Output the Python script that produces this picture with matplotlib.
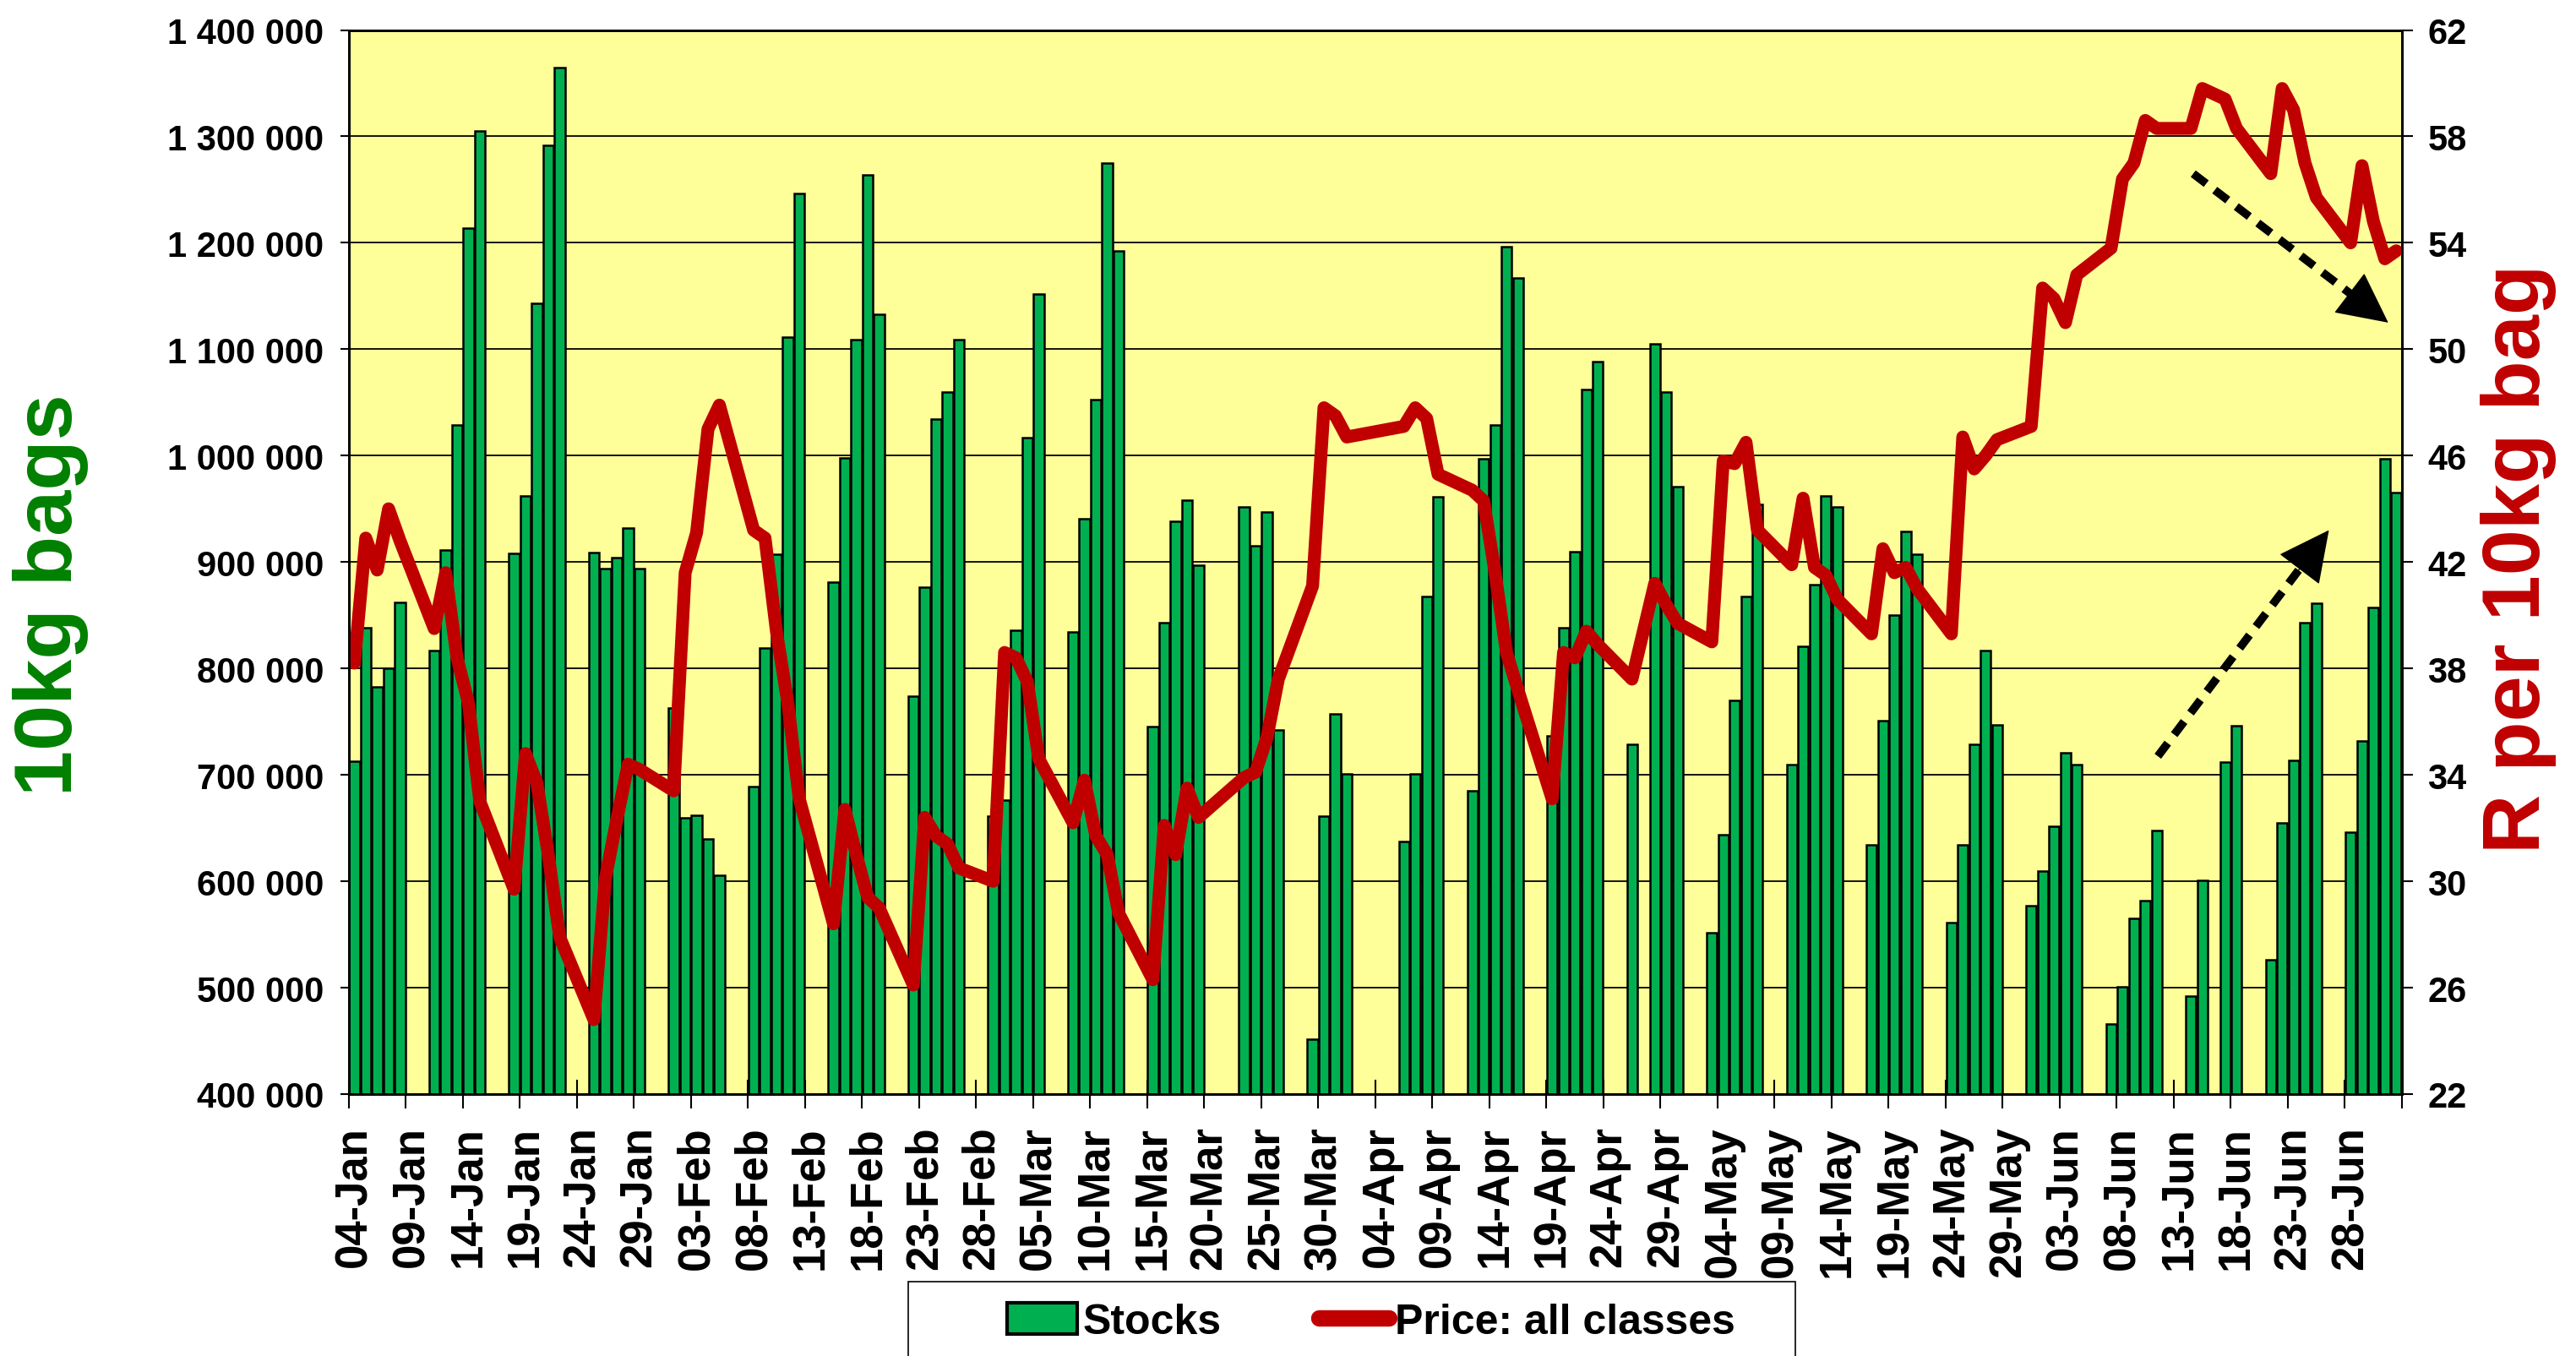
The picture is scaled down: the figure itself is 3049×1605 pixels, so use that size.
import matplotlib
matplotlib.use('Agg')
import matplotlib.pyplot as plt
import numpy as np
import pandas as pd
from matplotlib import font_manager
from matplotlib.patches import Patch, Rectangle
from matplotlib.lines import Line2D
from matplotlib.ticker import FuncFormatter

# trading days Mon..Fri, 04-Jan to 02-Jul; None = public holiday
start = '2021-01-04'
end = '2021-07-02'

# stocks, thousands of 10kg bags
stocks_k = [
    713, 838, 783, 800, 862,
    817, 911, 1029, 1214, 1305,
    908, 962, 1143, 1292, 1365,
    909, 894, 904, 932, 894,
    763, 660, 662, 640, 606,
    689, 819, 907, 1111, 1246,
    881, 998, 1109, 1264, 1133,
    774, 876, 1034, 1060, 1109,
    661, 676, 836, 1017, 1152,
    834, 941, 1053, 1275, 1192,
    745, 843, 938, 958, 897,
    None, 952, 915, 947, 742,
    452, 661, 757, 701, None,
    None, 637, 701, 868, 961,
    685, 997, 1029, 1196, 1167,
    737, 838, 910, 1062, 1088,
    729, None, 1105, 1060, 971,
    552, 644, 770, 868, 954,
    710, 821, 879, 962, 952,
    634, 751, 850, 929, 907,
    561, 634, 729, 817, 747,
    577, 610, 652, 721, 710,
    466, 501, 565, 582, 648,
    492, 601, None, 712, 746,
    526, 655, 714, 843, 861,
    646, 732, 857, 997, 965,
]

# price all classes, R per 10kg bag
price = [
    38.2, 42.9, 41.7, 44.0, 42.8,
    39.5, 41.6, 38.4, 36.7, 33.0,
    29.7, 34.8, 33.7, 31.0, 27.9,
    24.8, 30.1, 32.3, 34.4, 34.2,
    33.4, 41.6, 43.1, 47.0, 47.9,
    43.2, 42.9, 39.4, 36.7, 33.1,
    28.4, 32.7, 31.0, 29.4, 29.0,
    26.1, 32.4, 31.7, 31.4, 30.5,
    30.0, 38.6, 38.4, 37.5, 34.6,
    32.2, 33.8, 31.7, 31.0, 28.8,
    26.3, 32.1, 31.0, 33.5, 32.4,
    None, 33.9, 34.1, 35.4, 37.6,
    41.1, 47.8, 47.5, 46.7, None,
    None, 47.1, 47.8, 47.4, 45.3,
    44.7, 44.3, 41.6, 38.6, 37.2,
    33.1, 38.6, 38.4, 39.4, 38.9,
    37.6, None, 41.2, 40.4, 39.7,
    39.0, 45.8, 45.7, 46.5, 43.2,
    41.9, 44.4, 41.8, 41.5, 40.6,
    39.3, 42.5, 41.6, 41.8, 41.0,
    39.3, 46.7, 45.5, 46.0, 46.6,
    47.1, 52.3, 51.9, 51.0, 52.8,
    53.8, 56.4, 57.0, 58.6, 58.3,
    58.3, 59.8, None, 59.4, 58.3,
    56.6, 59.8, 59.0, 57.0, 55.7,
    54.0, 56.9, 54.8, 53.4, 53.7,
]

# trend arrows (day index, price)
arrow_down = [(161.2, 56.6), (178.3, 51.0)]
arrow_up = [(158.1, 34.7), (173.1, 43.2)]

have = {f.name for f in font_manager.fontManager.ttflist}
if 'Liberation Sans Narrow' in have:
    narrow, tick_fs, leg_fs = 'Liberation Sans Narrow', 36, 42
else:
    narrow, tick_fs, leg_fs = 'Liberation Sans', 30, 36

plt.rcParams['font.family'] = ['Liberation Sans', 'DejaVu Sans']
plt.rcParams['font.weight'] = 'bold'

days = pd.bdate_range(start, end)
x = np.array((days - days[0]).days)
ndays = (pd.Timestamp(end) - pd.Timestamp(start)).days + 1
st = np.array([np.nan if v is None else v * 1000 for v in stocks_k])
pr = np.array([np.nan if v is None else v for v in price])

green = '#00B050'
red = '#C00000'

fig = plt.figure(figsize=(30.49, 16.06), dpi=100)
ax = fig.add_axes([0.13535, 0.19303, 0.79708, 0.78424])
ax.set_facecolor('#FFFF99')
ax.set_axisbelow(True)

ok = ~np.isnan(st)
ax.bar(x[ok], st[ok], width=0.9, color=green, edgecolor='black', linewidth=1.8)
ax.set_ylim(400000, 1400000)
ax.set_xlim(-0.5, ndays - 0.5)
ax.set_yticks(np.arange(400000, 1400001, 100000))
ax.yaxis.set_major_formatter(FuncFormatter(lambda v, p: f'{int(v):,}'.replace(',', ' ')))
ax.yaxis.grid(True, color='black', linewidth=1.3)

# ticks on week boundaries, labels every 5 days
label_days = pd.date_range(start, periods=ndays // 5, freq='5D')
ax.set_xticks(np.arange(-0.5, ndays, 5))
ax.set_xticklabels([])
ax.set_xticks(np.arange(0, ndays, 5), minor=True)
ax.set_xticklabels([d.strftime('%d-%b') for d in label_days], minor=True,
                   rotation=90, fontsize=38, fontweight='bold')
ax.tick_params(axis='x', which='major', direction='inout', length=25, width=1.5)
ax.tick_params(axis='x', which='minor', length=0, pad=27)
ax.tick_params(axis='y', direction='out', length=7, width=1.5, pad=14)
for lab in ax.get_yticklabels():
    lab.set_fontfamily(narrow)
    lab.set_fontsize(tick_fs)
    lab.set_fontweight('bold')
for s in ax.spines.values():
    s.set_linewidth(2)

ax2 = ax.twinx()
okp = ~np.isnan(pr)
ax2.plot(x[okp], pr[okp], color=red, linewidth=11,
         solid_joinstyle='round', solid_capstyle='round')
ax2.set_ylim(22, 62)
ax2.set_yticks(np.arange(22, 63, 4))
ax2.tick_params(axis='y', direction='out', length=9, width=1.5, pad=13)
for lab in ax2.get_yticklabels():
    lab.set_fontfamily(narrow)
    lab.set_fontsize(tick_fs)
    lab.set_fontweight('bold')
for s in ax2.spines.values():
    s.set_linewidth(2)

# dashed trend arrows
for (x0, y0), (x1, y1), f in [(arrow_down[0], arrow_down[1], 0.84), (arrow_up[0], arrow_up[1], 0.86)]:
    ax2.plot([x0, x0 + f * (x1 - x0)], [y0, y0 + f * (y1 - y0)], color='black',
             linewidth=7, linestyle=(0, (2.0, 1.3)), solid_capstyle='butt')
    ax2.annotate('', xy=(x1, y1), xytext=(x0 + 0.8 * (x1 - x0), y0 + 0.8 * (y1 - y0)),
                 arrowprops=dict(arrowstyle='-|>,head_length=1.0,head_width=0.5',
                                 mutation_scale=40, color='black', lw=1,
                                 shrinkA=0, shrinkB=0))

fig.text(60 / 3049, 1 - 704 / 1606, '10kg bags', rotation=90, ha='center', va='center',
         color='#008000', fontsize=70, fontweight='bold')
fig.text(2981 / 3049, 1 - 661 / 1606, 'R per 10kg bag', rotation=90, ha='center', va='center',
         color=red, fontsize=70, fontweight='bold')

# legend box, cut by the bottom of the picture
fig.add_artist(Rectangle((1075 / 3049, -0.02), 1050 / 3049, 0.02 + (1606 - 1518) / 1606,
                         transform=fig.transFigure, facecolor='white',
                         edgecolor='black', linewidth=1.2))
handles = [Patch(facecolor=green, edgecolor='black', linewidth=3),
           Line2D([], [], color=red, linewidth=14, solid_capstyle='round')]
fig.legend(handles, ['Stocks', 'Price: all classes'], loc='center left',
           bbox_to_anchor=(1192 / 3049, 1 - 1566 / 1606), ncol=2, frameon=False,
           prop=dict(family=narrow, weight='bold', size=leg_fs),
           handlelength=1.65, handleheight=0.75, handletextpad=0.15,
           columnspacing=2.3, borderpad=0, borderaxespad=0)

fig.savefig('out.png', dpi=100)
